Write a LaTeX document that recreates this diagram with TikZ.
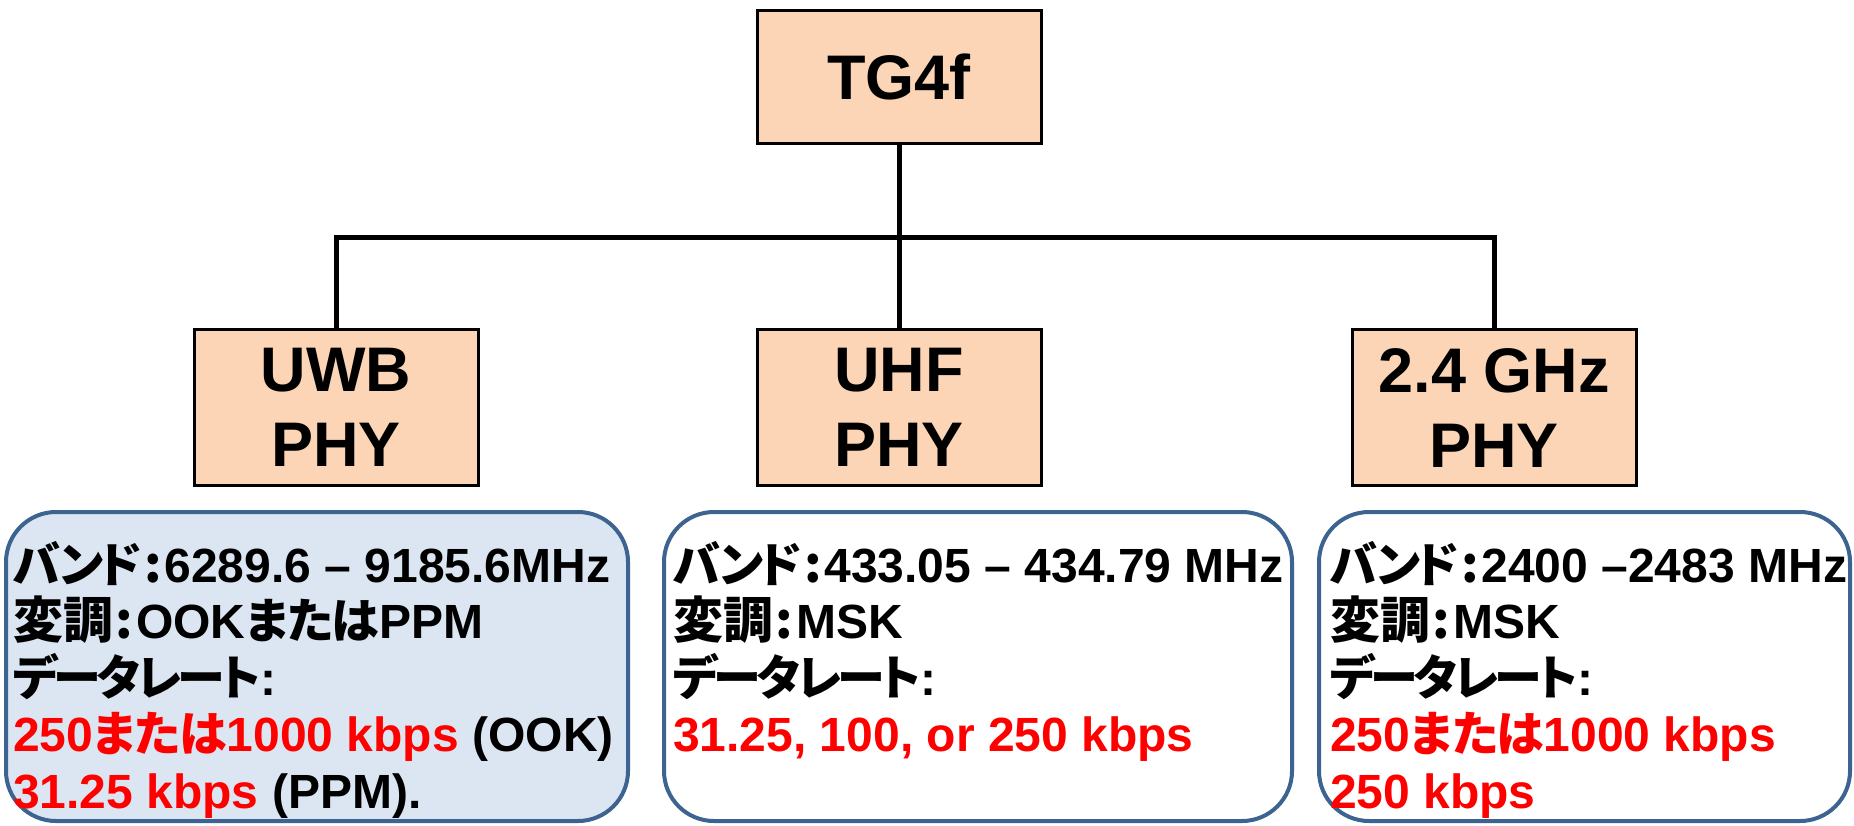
\documentclass[tikz,border=0pt]{standalone}
\usepackage{fontspec}
\setmainfont{Liberation Sans}
\newfontfamily\jp{Noto Sans CJK JP}[Scale=1.04]
\newfontfamily\jk{Noto Sans CJK JP}[RawFeature=+palt, LetterSpace=-8]
\newfontfamily\jm{Noto Sans CJK JP}[RawFeature=+palt, LetterSpace=-3]
\definecolor{peach}{HTML}{FBD5B5}
\definecolor{steel}{HTML}{3D6391}
\definecolor{uwbfill}{HTML}{DCE6F2}
\definecolor{redtxt}{HTML}{FF0000}
\newcommand{\J}[1]{{\jp #1}}
\newcommand{\K}[1]{{\jk #1}}
\newcommand{\M}[1]{{\jm #1}}
\newcommand{\cln}{\makebox[0.48em]{\jp :}}
\newcommand{\R}[1]{\textcolor{redtxt}{#1}}
\begin{document}
\begin{tikzpicture}[x=1pt,y=-1pt,
  phybox/.style={draw=black, line width=3pt, fill=peach, inner sep=0pt,
    minimum width=284pt, align=center,
    font=\fontsize{63}{75}\selectfont\bfseries},
  info/.style={draw=steel, line width=4pt, rounded corners=50pt, inner sep=0pt},
  infoline/.style={anchor=base west, inner sep=0pt,
    font=\fontsize{48}{56.5}\selectfont\bfseries},
  conn/.style={draw=black, line width=5pt}]
\useasboundingbox (0,0) rectangle (1854,825);

% top and PHY boxes
\node[phybox, minimum height=133pt] (top) at (899,76.5) {TG4f};
\node[phybox, minimum height=156pt] (uwb) at (336,407.5) {UWB\\PHY};
\node[phybox, minimum height=156pt] (uhf) at (899,407.5) {UHF\\PHY};
\node[phybox, minimum height=156pt] (ghz) at (1494,407.5) {2.4 GHz\\PHY};

% connectors
\coordinate (bar) at (899,237);
\draw[conn] (top.south) -- (bar);
\draw[conn] (uwb.north) |- (bar) -| (ghz.north);
\draw[conn] (bar) -- (uhf.north);

% info boxes
\node[info, fill=uwbfill, minimum width=622pt, minimum height=309pt] (infoA) at (317,666.5) {};
\node[info, fill=white, minimum width=628pt, minimum height=309pt] (infoB) at (978,666.5) {};
\node[info, fill=white, minimum width=531pt, minimum height=309pt] (infoC) at (1584.5,666.5) {};

% UWB text
\node[infoline] (a1) at (13,582) {\K{バンド}\cln 6289.6 – 9185.6MHz};
\node[infoline] (a2) at (13,638.5) {\J{変調}\cln OOK\M{または}PPM};
\node[infoline] (a3) at (13,695) {\K{データレート}:};
\node[infoline] (a4) at (13,751.5) {\R{250\M{または}1000 kbps} (OOK)};
\node[infoline] (a5) at (13,808) {\R{31.25 kbps} (PPM).};

% UHF text
\node[infoline] (b1) at (673,582) {\K{バンド}\cln 433.05 – 434.79 MHz};
\node[infoline] (b2) at (673,638.5) {\J{変調}\cln MSK};
\node[infoline] (b3) at (673,695) {\K{データレート}:};
\node[infoline] (b4) at (673,751.5) {\R{31.25, 100, or 250 kbps}};

% 2.4 GHz text
\node[infoline] (c1) at (1330,582) {\K{バンド}\cln 2400 –2483 MHz};
\node[infoline] (c2) at (1330,638.5) {\J{変調}\cln MSK};
\node[infoline] (c3) at (1330,695) {\K{データレート}:};
\node[infoline] (c4) at (1330,751.5) {\R{250\M{または}1000 kbps}};
\node[infoline] (c5) at (1330,808) {\R{250 kbps}};
\end{tikzpicture}
\end{document}
